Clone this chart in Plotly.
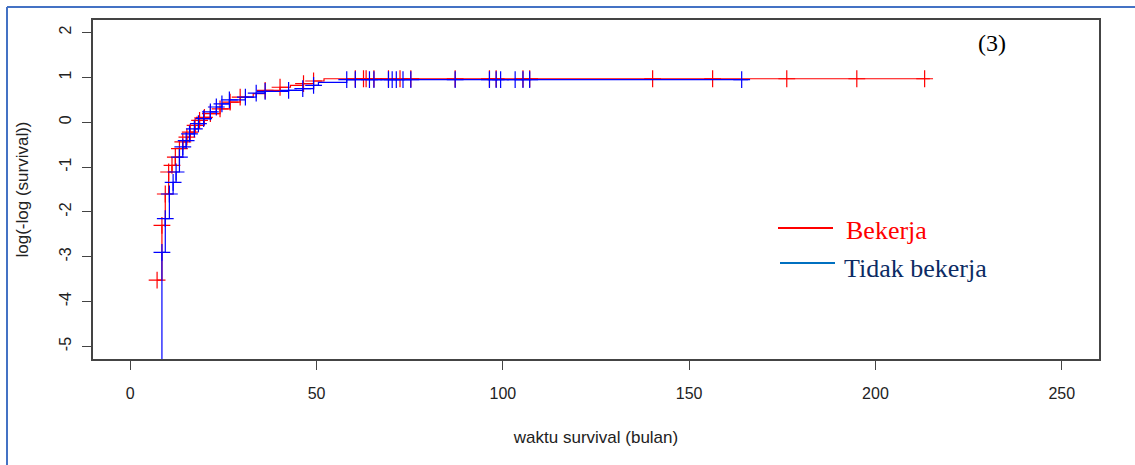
import numpy as np
import plotly.graph_objects as go

# ---------------- data ----------------
# Bekerja (red): event times and log(-log(S)) after each step
red_t = [7.2, 8.5, 9.4, 10.3, 11.2, 12.1, 13.2, 14.1, 15.2, 16.1, 17.4, 18.6, 19.9,
         21.5, 24.1, 26.8, 29.5, 33.0, 36.2, 40.2, 43.0, 46.5, 49.2, 52.0, 214.6]
red_y = [-3.52, -2.30, -1.60, -1.11, -0.96, -0.78, -0.59, -0.44, -0.33, -0.22, -0.07, 0.04, 0.11,
         0.19, 0.30, 0.45, 0.56, 0.64, 0.71, 0.78, 0.82, 0.86, 0.92, 0.97, 0.97]
red_cens = [7.2, 8.5, 9.4, 10.3, 11.2, 12.1, 13.2, 14.1, 15.2, 16.1, 17.4, 18.6, 19.9,
            21.5, 24.1, 26.8, 29.5, 36.2, 40.2, 46.5, 49.2,
            60.4, 62.6, 63.3, 65.4, 69.3, 72.4, 75.3, 87.2, 96.4, 98.2, 105.4, 107.2,
            140.2, 156.3, 176.2, 195.0, 213.2]

# Tidak bekerja (blue); first value lies below the axis range (log(-log(1)) = -inf)
blue_t = [8.5, 8.5, 9.4, 10.5, 11.5, 12.3, 13.2, 14.1, 15.0, 15.9, 17.2, 18.3, 19.7,
          21.5, 23.1, 24.6, 26.6, 30.9, 33.8, 36.2, 42.5, 46.3, 49.2, 50.5, 58.1, 165.8]
blue_y = [-9.0, -2.90, -2.15, -1.60, -1.34, -1.11, -0.78, -0.55, -0.41, -0.26, -0.15, -0.03, 0.08,
          0.23, 0.34, 0.41, 0.50, 0.56, 0.65, 0.69, 0.71, 0.75, 0.82, 0.89, 0.95, 0.95]
blue_cens = [8.5, 9.4, 10.5, 11.5, 12.3, 13.2, 14.1, 15.0, 15.9, 17.2, 18.3, 19.7,
             21.5, 23.1, 24.6, 26.6, 30.9, 33.8, 36.2, 42.5, 46.3, 49.2,
             58.1, 60.4, 64.2, 65.4, 69.3, 70.3, 71.4, 73.2, 75.3, 87.2, 96.4, 98.2,
             99.4, 103.3, 105.4, 107.2, 164.1]

x_ticks = [0, 50, 100, 150, 200, 250]
y_ticks = [-5, -4, -3, -2, -1, 0, 1, 2]


def step_at(times, vals, q):
    t = np.asarray(times)
    v = np.asarray(vals)
    idx = np.searchsorted(t, np.asarray(q), side="right") - 1
    idx = np.clip(idx, 0, len(v) - 1)
    return v[idx]


fig = go.Figure()

for t, y, c, col in [(red_t, red_y, red_cens, "#FF0000"), (blue_t, blue_y, blue_cens, "#0000FF")]:
    fig.add_trace(go.Scatter(x=t, y=y, mode="lines", line=dict(color=col, width=1.2, shape="hv"),
                             showlegend=False, hoverinfo="skip"))
    fig.add_trace(go.Scatter(x=c, y=step_at(t, y, c), mode="markers",
                             marker=dict(symbol="cross-thin", size=12, line=dict(color=col, width=1.2)),
                             showlegend=False, hoverinfo="skip"))

# geometry (pixels) of the plot area
L, R, T, B = 93, 1099, 20, 359
W, H = R - L, B - T


def px(x):
    return (x - L) / W


def py(y):
    return (B - y) / H


frame = "#4472C4"
fig.add_shape(type="line", xref="paper", yref="paper", x0=px(7), x1=px(1135), y0=py(7), y1=py(7),
              line=dict(color=frame, width=2))
fig.add_shape(type="line", xref="paper", yref="paper", x0=px(7), x1=px(7), y0=py(7), y1=py(466),
              line=dict(color=frame, width=2))

# custom legend
fig.add_shape(type="line", xref="paper", yref="paper", x0=px(778), x1=px(833), y0=py(228), y1=py(228),
              line=dict(color="#FF0000", width=2))
fig.add_shape(type="line", xref="paper", yref="paper", x0=px(780), x1=px(835), y0=py(263), y1=py(263),
              line=dict(color="#0070C0", width=2))
fig.add_annotation(xref="paper", yref="paper", x=px(844), y=py(230), text="Bekerja", showarrow=False,
                   xanchor="left", yanchor="middle",
                   font=dict(family="Liberation Serif", size=26, color="#FF0000"))
fig.add_annotation(xref="paper", yref="paper", x=px(842), y=py(268), text="Tidak bekerja", showarrow=False,
                   xanchor="left", yanchor="middle",
                   font=dict(family="Liberation Serif", size=26, color="#0C2B64"))
fig.add_annotation(xref="paper", yref="paper", x=px(992), y=py(43), text="(3)", showarrow=False,
                   xanchor="center", yanchor="middle",
                   font=dict(family="Liberation Serif", size=24, color="#000000"))

axis_common = dict(showgrid=False, zeroline=False, showline=True, mirror=True, linecolor="#444444",
                   linewidth=1.5, ticks="outside", ticklen=9, tickcolor="#444444", tickwidth=1,
                   tickfont=dict(family="Liberation Sans", size=16, color="#222222"))

fig.update_layout(
    width=1135, height=465,
    margin=dict(l=L, r=1135 - R, t=T, b=465 - B),
    paper_bgcolor="white", plot_bgcolor="white",
    xaxis=dict(range=[-10, 260], tickvals=x_ticks, ticktext=[str(v) for v in x_ticks],
               ticklabelstandoff=10,
               title=dict(text="waktu survival (bulan)", standoff=30,
                          font=dict(family="Liberation Sans", size=17, color="#222222")),
               **axis_common),
    yaxis=dict(range=[-5.28, 2.28], tickvals=y_ticks, ticktext=[str(v) for v in y_ticks],
               tickangle=-90, ticklabelstandoff=5,
               title=dict(text="log(-log (survival))", standoff=24,
                          font=dict(family="Liberation Sans", size=17, color="#222222")),
               **axis_common),
)

fig.write_html("out.html")
